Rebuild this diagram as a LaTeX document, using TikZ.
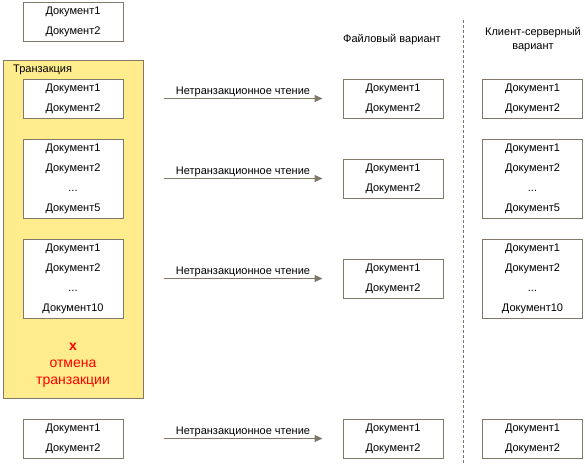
\documentclass[tikz,border=0pt]{standalone}
\usepackage{fontspec}
\setmainfont{Liberation Sans}
\usetikzlibrary{arrows.meta}
\definecolor{boxgray}{RGB}{128,121,106}
\definecolor{txyellow}{RGB}{255,236,141}
\definecolor{cancelred}{RGB}{255,0,0}
\tikzset{
  doc/.style={draw=boxgray,line width=1pt,fill=white,minimum width=100pt,minimum height=39pt,inner sep=0pt,align=center,font=\fontsize{11}{20}\selectfont},
  doclong/.style={doc,minimum height=79pt},
  txbox/.style={draw=boxgray,line width=1pt,fill=txyellow,minimum width=140pt,minimum height=338pt,inner sep=0pt},
  readarrow/.style={draw=boxgray,line width=1pt,-{Triangle[length=8pt,width=7pt]},shorten <=20pt,shorten >=20pt},
  hdr/.style={align=center,font=\fontsize{11}{14}\selectfont},
  divider/.style={draw=boxgray,line width=1pt,dash pattern=on 3pt off 2pt}
}
\begin{document}
\begin{tikzpicture}[x=1pt,y=-1pt]
    \useasboundingbox (0,0) rectangle (585,463);
    % transaction
    \node[txbox] (tx) at (73,229) {};
    \node[anchor=west,inner sep=0pt,font=\fontsize{11}{13}\selectfont] (txlabel) at (13,70) {Транзакция};
    \node[doc] (top) at (73,21.5) {Документ1\\Документ2};
    \node[doc] (tr1) at (73,98.5) {Документ1\\Документ2};
    \node[doclong] (tr2) at (73,178.5) {Документ1\\Документ2\\...\\Документ5};
    \node[doclong] (tr3) at (73,278.5) {Документ1\\Документ2\\...\\Документ10};
    \node[align=center,text=cancelred,inner sep=0pt,font=\fontsize{14}{17}\selectfont] (cancel) at (73,365) {\textbf{x}\\отмена\\транзакции};
    \node[doc] (tr4) at (73,438.5) {Документ1\\Документ2};
    % file variant
    \node[hdr] (filehdr) at (392,40) {Файловый вариант};
    \node[doc] (file1) at (393,98.5) {Документ1\\Документ2};
    \node[doc] (file2) at (393,178.5) {Документ1\\Документ2};
    \node[doc] (file3) at (393,278.5) {Документ1\\Документ2};
    \node[doc] (file4) at (393,438.5) {Документ1\\Документ2};
    \foreach \r in {1,2,3,4}{\draw[readarrow] (tx.east |- file\r.west) -- (file\r.west) node[midway,above,inner sep=1pt,font=\fontsize{11}{13}\selectfont] {Нетранзакционное чтение};}
    % divider
    \coordinate (divtop) at (463,20); \coordinate (divbot) at (463,463);
    \draw[divider] (divtop) -- (divbot);
    % client-server variant
    \node[hdr] (cshdr) at (533,40) {Клиент-серверный\\вариант};
    \node[doc] (cs1) at (532.5,98.5) {Документ1\\Документ2};
    \node[doclong] (cs2) at (532.5,178.5) {Документ1\\Документ2\\...\\Документ5};
    \node[doclong] (cs3) at (532.5,278.5) {Документ1\\Документ2\\...\\Документ10};
    \node[doc] (cs4) at (532.5,438.5) {Документ1\\Документ2};
\end{tikzpicture}
\end{document}
